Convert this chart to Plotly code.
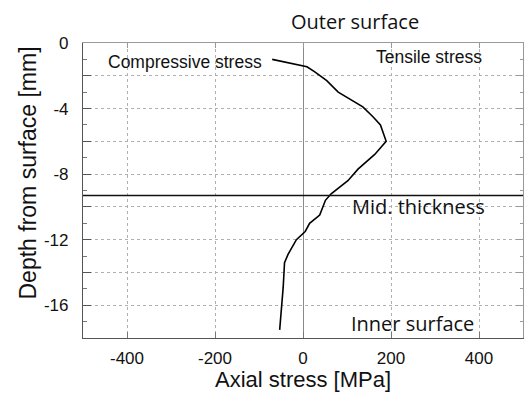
import plotly.graph_objects as go

# Axial residual stress profile through the wall thickness
depth_mm = [-1.0, -1.45, -1.75, -2.3, -3.0, -3.9, -4.5, -5.0, -6.0, -6.8, -7.7,
            -8.4, -9.2, -9.6, -10.5, -11.0, -11.5, -12.0, -12.9, -13.4, -14.9,
            -16.3, -17.5]
stress_mpa = [-70, 9, 26, 54, 80, 136, 159, 176, 189, 163, 125,
              102, 64, 51, 38, 15, 5, -15, -34, -42, -45,
              -49, -53]
mid_thickness_mm = -9.3

x_ticks = [-400, -200, 0, 200, 400]
y_grid = [0, -2, -4, -6, -8, -10, -12, -14, -16, -18]
y_labels = ["0", "", "-4", "", "-8", "", "-12", "", "-16", ""]

sans = "Liberation Sans, Arial, sans-serif"
humanist = "Open Sans, Noto Sans, sans-serif"
ink = "#111111"

fig = go.Figure()

fig.add_trace(go.Scatter(
    x=stress_mpa, y=depth_mm, mode="lines",
    line=dict(color="black", width=1.6), showlegend=False, hoverinfo="skip"))

# ghost trace so the mirrored top/right frame axes get drawn
fig.add_trace(go.Scatter(
    x=stress_mpa, y=depth_mm, mode="lines", xaxis="x2", yaxis="y2",
    line=dict(color="rgba(0,0,0,0)", width=0), showlegend=False, hoverinfo="skip"))

# mid-thickness marker line
fig.add_shape(type="line", xref="paper", x0=0, x1=1, yref="y",
              y0=mid_thickness_mm, y1=mid_thickness_mm,
              line=dict(color="#111111", width=1.5))

common_x = dict(range=[-500, 500], tickvals=x_ticks)
common_y = dict(range=[-18, 0])

fig.update_layout(
    width=525, height=393,
    margin=dict(l=83, r=2, t=43, b=55),
    paper_bgcolor="white", plot_bgcolor="white",
    xaxis=dict(
        **common_x,
        ticktext=[str(v) for v in x_ticks],
        showgrid=True, gridcolor="#b0b0b0", griddash="dot", gridwidth=1,
        zeroline=True, zerolinecolor="#8a8a8a", zerolinewidth=1.2,
        showline=True, linecolor="#555555", linewidth=1.2,
        ticks="inside", ticklen=6, tickcolor="#777777",
        tickfont=dict(family=sans, size=17, color=ink),
        ticklabelstandoff=4,
    ),
    yaxis=dict(
        **common_y,
        tickvals=y_grid, ticktext=y_labels,
        showgrid=True, gridcolor="#b0b0b0", griddash="dot", gridwidth=1,
        zeroline=False,
        showline=True, linecolor="#555555", linewidth=1.2,
        ticks="inside", ticklen=8, tickcolor="#555555",
        minor=dict(dtick=1, ticks="inside", ticklen=4, tickcolor="#777777", showgrid=False),
        tickfont=dict(family=sans, size=17, color=ink),
        ticklabelstandoff=10,
    ),
    xaxis2=dict(
        **common_x, overlaying="x", side="top", matches="x",
        showticklabels=False, showgrid=False, zeroline=False,
        showline=True, linecolor="#999999", linewidth=1,
        ticks="inside", ticklen=5, tickcolor="#999999",
    ),
    yaxis2=dict(
        **common_y, overlaying="y", side="right", matches="y",
        tickvals=y_grid, showticklabels=False, showgrid=False, zeroline=False,
        showline=True, linecolor="#999999", linewidth=1,
        ticks="inside", ticklen=7, tickcolor="#999999",
        minor=dict(dtick=1, ticks="inside", ticklen=3, tickcolor="#999999", showgrid=False),
    ),
    showlegend=False,
)

annotations = [
    # axis titles
    dict(text="Axial stress [MPa]", xref="paper", yref="paper", x=0.5, y=0,
         yshift=-41, yanchor="middle", showarrow=False,
         font=dict(family=sans, size=22, color=ink)),
    dict(text="Depth from surface [mm]", xref="paper", yref="paper", x=0, y=0.5,
         xshift=-56, yshift=17, textangle=-90, xanchor="center", yanchor="middle",
         showarrow=False, font=dict(family=sans, size=23, color=ink)),
    # region labels
    dict(text="Outer surface", xref="x", yref="paper", x=119, y=1, yshift=22,
         yanchor="middle", showarrow=False,
         font=dict(family=humanist, size=20, color=ink)),
    dict(text="Compressive stress", xref="x", yref="y", x=-88, y=-1.15,
         xanchor="right", yanchor="middle", showarrow=False,
         font=dict(family=sans, size=17.5, color=ink)),
    dict(text="Tensile stress", xref="x", yref="y", x=287, y=-0.85,
         xanchor="center", yanchor="middle", showarrow=False,
         font=dict(family=sans, size=17.5, color=ink)),
    dict(text="Mid. thickness", xref="x", yref="y", x=262, y=-9.95,
         xanchor="center", yanchor="middle", showarrow=False,
         font=dict(family=humanist, size=20, color=ink)),
    dict(text="Inner surface", xref="x", yref="y", x=248, y=-17.1,
         xanchor="center", yanchor="middle", showarrow=False,
         font=dict(family=humanist, size=20, color=ink)),
]
fig.update_layout(annotations=annotations)

fig.write_html("out.html")
